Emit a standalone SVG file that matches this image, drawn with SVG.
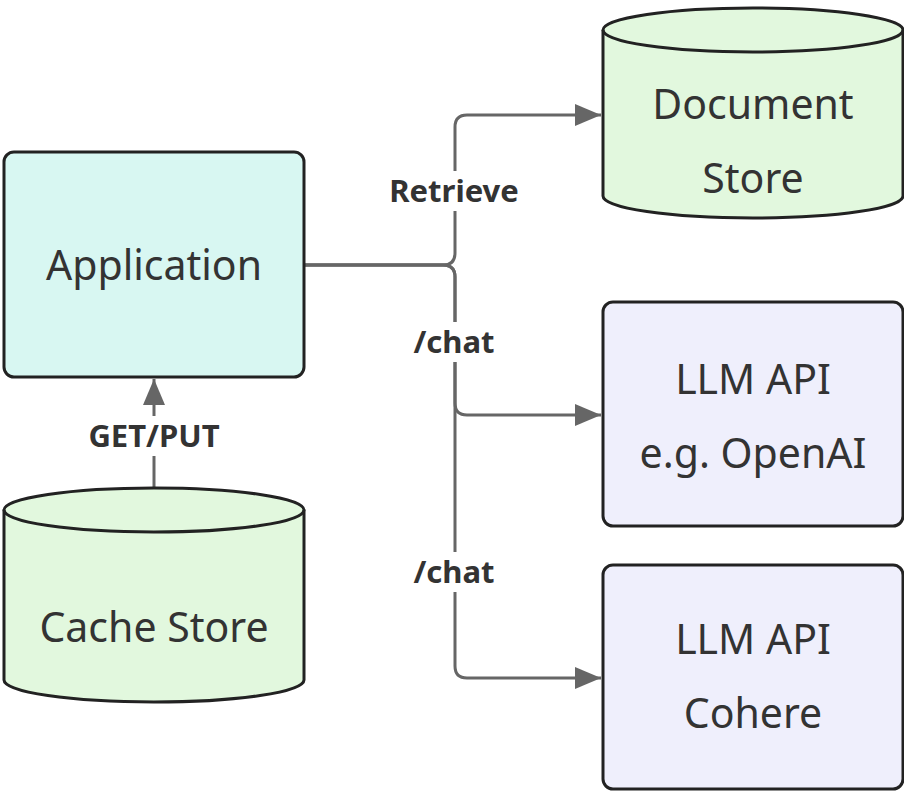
<svg xmlns="http://www.w3.org/2000/svg" width="904" height="791" viewBox="0 0 904 791">
<style>
.n{stroke:#222;stroke-width:3}
.t{font-family:"Noto Sans",sans-serif;font-size:41px;fill:#333;text-anchor:middle}
.l{font-family:"Noto Sans",sans-serif;font-size:31px;font-weight:bold;fill:#333;text-anchor:middle}
.c{fill:none;stroke:#666;stroke-width:3}
</style>
<defs><marker id="a" markerWidth="26" markerHeight="22" refX="26" refY="11" orient="auto" markerUnits="userSpaceOnUse"><path d="M0,0L26,11L0,22z" fill="#666"/></marker></defs>
<rect width="904" height="791" fill="#fff"/>
<g id="connectors">
<path class="c" d="M304,265H443Q455,265 455,253V127Q455,115 467,115H601" marker-end="url(#a)"/>
<path class="c" d="M304,265H443Q455,265 455,277V403Q455,415 467,415H601" marker-end="url(#a)"/>
<path class="c" d="M304,265H443Q455,265 455,277V666Q455,678 467,678H601" marker-end="url(#a)"/>
<path class="c" d="M154,488V379" marker-end="url(#a)"/>
<rect x="380" y="171" width="148" height="40" fill="#fff"/>
<text class="l" x="454" y="202">Retrieve</text>
<rect x="404" y="322" width="100" height="40" fill="#fff"/>
<text class="l" x="454" y="353">/chat</text>
<rect x="404" y="552" width="100" height="40" fill="#fff"/>
<text class="l" x="454" y="583">/chat</text>
<rect x="72" y="416" width="164" height="40" fill="#fff"/>
<text class="l" x="154" y="447">GET/PUT</text>
</g>
<g id="app"><rect class="n" x="4" y="152" width="300" height="225" rx="10" fill="#d8f7f2"/><text class="t" x="154" y="280">Application</text></g>
<g id="cache"><path class="n" fill="#e2f8de" d="M4,510A150,22 0 0 1 304,510V680A150,22 0 0 1 4,680Z"/><path class="n" fill="none" d="M4,510A150,22 0 0 0 304,510"/><text class="t" x="154" y="642">Cache Store</text></g>
<g id="doc"><path class="n" fill="#e2f8de" d="M603,30A150,22 0 0 1 903,30V196A150,22 0 0 1 603,196Z"/><path class="n" fill="none" d="M603,30A150,22 0 0 0 903,30"/><text class="t" x="753" y="119">Document</text><text class="t" x="753" y="193">Store</text></g>
<g id="openai"><rect class="n" x="603" y="302" width="300" height="224" rx="10" fill="#efeffc"/><text class="t" x="753" y="394">LLM API</text><text class="t" x="753" y="468">e.g. OpenAI</text></g>
<g id="cohere"><rect class="n" x="603" y="565" width="300" height="224" rx="10" fill="#efeffc"/><text class="t" x="753" y="654">LLM API</text><text class="t" x="753" y="728">Cohere</text></g>
</svg>
